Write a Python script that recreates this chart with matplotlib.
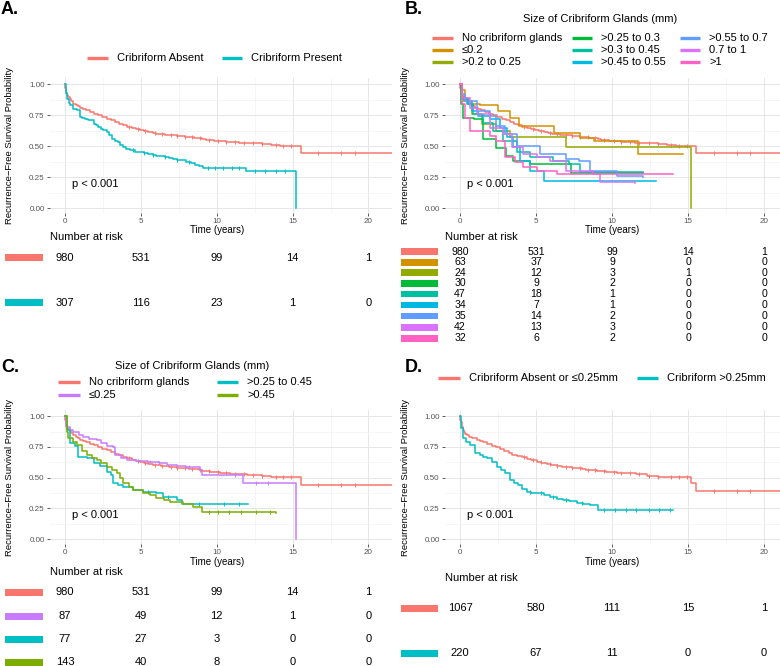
import numpy as np
import matplotlib
matplotlib.use('Agg')
import matplotlib.pyplot as plt
import matplotlib.transforms as mtrans
from matplotlib.lines import Line2D
from matplotlib.patches import Rectangle

plt.rcParams['font.family'] = ['Liberation Sans', 'DejaVu Sans']

# ---- data ----
risk_times = [0, 5, 10, 15, 20]

# shared "no cribriform" curve (A, B, C)
absent_t = [0, 0.03, 0.06, 0.1, 0.15, 0.22, 0.3, 0.4, 0.55, 0.7, 0.85, 1.0, 1.2, 1.4, 1.64, 1.9,
            2.2, 2.45, 2.74, 3.0, 3.3, 3.55, 3.82, 4.1, 4.4, 4.65, 4.93, 5.2, 5.5, 5.8, 6.03, 6.3,
            6.6, 6.85, 7.1, 7.35, 7.6, 7.9, 8.2, 8.5, 8.8, 9.05, 9.3, 9.55, 9.8, 10.2, 10.6, 10.9,
            11.2, 11.5, 12.0, 12.5, 13.0, 13.6, 14.2, 15.55, 21.6]
absent_s = [1, 0.97, 0.95, 0.93, 0.915, 0.897, 0.88, 0.865, 0.843, 0.83, 0.82, 0.81, 0.80, 0.79,
            0.775, 0.762, 0.748, 0.735, 0.722, 0.708, 0.695, 0.68, 0.667, 0.656, 0.645, 0.636, 0.627,
            0.62, 0.612, 0.606, 0.60, 0.596, 0.593, 0.59, 0.586, 0.582, 0.579, 0.576, 0.573, 0.568,
            0.562, 0.557, 0.551, 0.548, 0.545, 0.538, 0.535, 0.532, 0.53, 0.528, 0.525, 0.522, 0.515,
            0.508, 0.505, 0.443, 0.443]
absent_cens = [4.2, 4.8, 5.3, 5.9, 6.4, 7.0, 7.4, 7.9, 8.4, 8.9, 9.5, 10.1, 10.6, 11.2, 11.8, 12.4,
               13.0, 13.9, 14.4, 14.9, 16.7, 18.2, 19.1]

present_t = [0, 0.04, 0.08, 0.15, 0.25, 0.33, 0.5, 0.77, 0.99, 1.15, 1.3, 1.5, 1.64, 1.9, 2.05, 2.19,
             2.35, 2.5, 2.74, 2.9, 3.07, 3.3, 3.5, 3.65, 3.82, 4.05, 4.28, 4.6, 4.93, 5.2, 5.5, 5.8,
             6.03, 6.3, 6.6, 6.85, 7.1, 7.35, 7.6, 8.0, 8.3, 8.6, 8.85, 9.1, 11.9, 15.2, 15.2]
present_s = [1, 0.96, 0.93, 0.884, 0.85, 0.83, 0.80, 0.789, 0.735, 0.728, 0.72, 0.714, 0.708, 0.68,
             0.667, 0.654, 0.64, 0.63, 0.613, 0.59, 0.56, 0.545, 0.532, 0.51, 0.49, 0.475, 0.465, 0.455,
             0.451, 0.445, 0.44, 0.432, 0.424, 0.417, 0.41, 0.404, 0.397, 0.39, 0.385, 0.37, 0.36, 0.35,
             0.34, 0.324, 0.297, 0.297, 0.0]
present_cens = [4.5, 5.2, 5.8, 6.6, 7.4, 8.2, 9.4, 9.9, 10.4, 11.0, 11.5, 12.5, 13.2, 13.9, 14.5]

# panel B size groups
le02_t = [0, 0.1, 0.3, 0.6, 1.3, 2.5, 3.3, 3.9, 6.2, 7.9, 8.8, 11.7, 14.7]
le02_s = [1, 0.95, 0.89, 0.84, 0.835, 0.784, 0.73, 0.662, 0.608, 0.568, 0.54, 0.435, 0.435]
g02_t = [0, 0.1, 0.2, 0.77, 1.42, 2.4, 3.29, 7.0, 15.2, 15.2]
g02_s = [1, 0.906, 0.866, 0.758, 0.677, 0.624, 0.575, 0.49, 0.49, 0.0]
g025_t = [0, 0.08, 0.22, 0.9, 1.5, 2.4, 3.0, 3.5, 4.6, 7.3, 12.05]
g025_s = [1, 0.84, 0.73, 0.716, 0.554, 0.486, 0.42, 0.38, 0.355, 0.28, 0.28]
g03_t = [0, 0.1, 0.44, 0.88, 1.53, 2.2, 2.85, 3.72, 4.6, 6.13, 7.2, 7.9, 12.05]
g03_s = [1, 0.89, 0.84, 0.76, 0.69, 0.62, 0.54, 0.45, 0.41, 0.38, 0.355, 0.288, 0.288]
g045_t = [0, 0.1, 0.55, 0.77, 1.2, 1.97, 2.6, 3.07, 3.5, 3.94, 4.6, 5.5, 12.9]
g045_s = [1, 0.88, 0.85, 0.785, 0.745, 0.72, 0.65, 0.57, 0.49, 0.38, 0.30, 0.22, 0.22]
g055_t = [0, 0.1, 0.33, 1.1, 1.97, 2.4, 2.96, 3.72, 5.26, 7.0, 7.8, 8.54, 10.3, 12.05]
g055_s = [1, 0.92, 0.866, 0.785, 0.745, 0.664, 0.597, 0.50, 0.435, 0.395, 0.382, 0.30, 0.26, 0.247]
g07_t = [0, 0.1, 0.66, 1.1, 1.97, 2.85, 3.4, 4.16, 5.04, 5.9, 7.0, 8.76, 9.2, 11.5]
g07_s = [1, 0.89, 0.81, 0.76, 0.65, 0.597, 0.49, 0.435, 0.41, 0.38, 0.30, 0.274, 0.207, 0.2]
g1_t = [0, 0.1, 0.33, 0.66, 1.97, 2.4, 2.96, 3.6, 4.16, 5.04, 6.35, 14.0]
g1_s = [1, 0.84, 0.73, 0.62, 0.58, 0.54, 0.41, 0.37, 0.33, 0.30, 0.274, 0.274]

# panel C groups
le025_t = [0, 0.1, 0.3, 0.55, 0.9, 1.2, 1.6, 2.08, 2.4, 2.74, 3.18, 3.29, 3.7, 4.06, 4.7, 5.5,
           6.2, 6.7, 7.4, 8.0, 8.88, 9.0, 11.7, 15.2, 15.2]
le025_s = [1, 0.914, 0.89, 0.873, 0.85, 0.83, 0.815, 0.805, 0.785, 0.76, 0.746, 0.684, 0.66, 0.643,
           0.635, 0.63, 0.62, 0.605, 0.595, 0.589, 0.562, 0.52, 0.454, 0.454, 0.0]
le025_cens = [5.6, 6.2, 8.2, 11.2, 12.6, 13.4]
mid_t = [0, 0.11, 0.33, 0.66, 0.88, 1.43, 1.9, 2.3, 2.74, 3.0, 3.18, 3.5, 3.84, 4.5, 5.15, 6.03,
         6.47, 7.35, 7.68, 12.06]
mid_s = [1, 0.886, 0.778, 0.757, 0.67, 0.657, 0.62, 0.595, 0.549, 0.52, 0.454, 0.44, 0.427, 0.40,
         0.386, 0.373, 0.346, 0.319, 0.286, 0.286]
mid_cens = [5.5, 6.8, 8.8, 10.5, 11.5]
big_t = [0, 0.11, 0.22, 0.5, 0.77, 1.1, 1.43, 1.8, 2.08, 2.4, 2.74, 3.1, 3.4, 3.6, 3.84, 4.2, 4.5,
         5.15, 5.6, 6.03, 6.5, 6.9, 7.8, 8.44, 9.0, 13.9]
big_s = [1, 0.873, 0.82, 0.79, 0.765, 0.72, 0.684, 0.66, 0.643, 0.615, 0.589, 0.56, 0.535, 0.50,
         0.454, 0.42, 0.40, 0.373, 0.355, 0.338, 0.32, 0.305, 0.286, 0.265, 0.224, 0.216]
big_cens = [9.5, 10.1, 10.8, 11.6, 12.6, 13.5]

# panel D groups
low_t = [0, 0.03, 0.06, 0.11, 0.18, 0.25, 0.35, 0.44, 0.6, 0.8, 1.1, 1.3, 1.53, 1.8, 2.1, 2.35,
         2.63, 2.9, 3.2, 3.45, 3.72, 4.05, 4.4, 4.7, 5.04, 5.35, 5.7, 6.0, 6.35, 6.7, 7.0, 7.35,
         7.67, 8.0, 8.3, 8.65, 8.98, 9.3, 9.6, 10.0, 10.3, 10.9, 11.6, 12.27, 13.0, 13.6, 15.2,
         15.55, 21.6]
low_s = [1, 0.97, 0.95, 0.914, 0.89, 0.87, 0.855, 0.846, 0.832, 0.82, 0.805, 0.798, 0.79, 0.775,
         0.76, 0.745, 0.73, 0.715, 0.70, 0.688, 0.676, 0.664, 0.652, 0.641, 0.63, 0.62, 0.612,
         0.603, 0.595, 0.59, 0.585, 0.58, 0.576, 0.57, 0.565, 0.56, 0.554, 0.55, 0.547, 0.543,
         0.54, 0.535, 0.53, 0.514, 0.508, 0.503, 0.454, 0.395, 0.395]
high_t = [0, 0.04, 0.08, 0.18, 0.4, 0.66, 0.99, 1.3, 1.5, 1.75, 2.1, 2.41, 2.7, 2.96, 3.29, 3.55,
          3.83, 4.1, 4.38, 4.7, 5.04, 5.5, 5.9, 6.4, 6.8, 7.2, 7.67, 8.1, 8.54, 9.1, 14.0]
high_s = [1, 0.95, 0.90, 0.82, 0.79, 0.765, 0.697, 0.68, 0.668, 0.657, 0.625, 0.59, 0.56, 0.535,
          0.48, 0.46, 0.44, 0.41, 0.386, 0.378, 0.373, 0.36, 0.346, 0.33, 0.319, 0.31, 0.297, 0.285,
          0.278, 0.238, 0.238]
high_cens = [4.6, 5.3, 6.1, 7.0, 8.0, 9.5, 10.2, 10.9, 11.6, 12.4, 13.1, 13.8]

risk_a = [[980, 531, 99, 14, 1], [307, 116, 23, 1, 0]]
risk_b = [[980, 531, 99, 14, 1], [63, 37, 9, 0, 0], [24, 12, 3, 1, 0], [30, 9, 2, 0, 0],
          [47, 18, 1, 0, 0], [34, 7, 1, 0, 0], [35, 14, 2, 0, 0], [42, 13, 3, 0, 0], [32, 6, 2, 0, 0]]
risk_c = [[980, 531, 99, 14, 1], [87, 49, 12, 1, 0], [77, 27, 3, 0, 0], [143, 40, 8, 0, 0]]
risk_d = [[1067, 580, 111, 15, 1], [220, 67, 11, 0, 0]]

labels_a = ['Cribriform Absent', 'Cribriform Present']
labels_b = ['No cribriform glands', '≤0.2', '>0.2 to 0.25', '>0.25 to 0.3', '>0.3 to 0.45',
            '>0.45 to 0.55', '>0.55 to 0.7', '0.7 to 1', '>1']
labels_c = ['No cribriform glands', '≤0.25', '>0.25 to 0.45', '>0.45']
labels_d = ['Cribriform Absent or ≤0.25mm', 'Cribriform >0.25mm']

RED, CYAN = '#F8766D', '#00BFC4'
cols_b = ['#F8766D', '#D39200', '#93AA00', '#00BA38', '#00C19F', '#00B9E3', '#619CFF', '#DB72FB', '#FF61C3']
cols_c = ['#F8766D', '#C77CFF', '#00BFC4', '#7CAE00']

W, H = 780, 666
fig = plt.figure(figsize=(W / 100, H / 100), dpi=100)


def fx(x):
    return x / W


def fy(y):
    return 1 - y / H


def panel(left, top, right, bottom, xlim):
    ax = fig.add_axes([fx(left), fy(bottom), (right - left) / W, (bottom - top) / H])
    ax.set_xlim(*xlim)
    ax.set_ylim(-0.04, 1.05)
    for sp in ax.spines.values():
        sp.set_visible(False)
    ax.set_xticks([0, 5, 10, 15, 20])
    ax.set_xticks([2.5, 7.5, 12.5, 17.5], minor=True)
    ax.set_yticks([0, 0.25, 0.5, 0.75, 1.0])
    ax.set_yticklabels(['0.00', '0.25', '0.50', '0.75', '1.00'])
    ax.set_yticks([0.125, 0.375, 0.625, 0.875], minor=True)
    ax.grid(which='major', color='#e6e6e6', lw=0.7)
    ax.grid(which='minor', color='#f1f1f1', lw=0.45)
    ax.tick_params(which='major', length=2.2, width=0.6, color='#444444', labelsize=5.8,
                   labelcolor='#555555', pad=1.5)
    ax.tick_params(which='minor', length=0)
    ax.set_axisbelow(True)
    ax.text(0.45, 0.195, 'p < 0.001', fontsize=8, va='center', ha='left')
    return ax


def curve(ax, t, s, c, cens=None):
    ax.step(t, s, where='post', color=c, lw=1.1)
    if cens:
        idx = np.searchsorted(t, cens, side='right') - 1
        ax.plot(cens, np.array(s)[idx], ls='none', marker='|', ms=3, mew=0.7, color=c)


def side_text(ax, xlabel_y, ylabel_x, ylabel_y):
    tr = mtrans.blended_transform_factory(ax.transData, fig.transFigure)
    fig.text(10, fy(xlabel_y), 'Time (years)', transform=tr, fontsize=7, ha='center', va='center')
    fig.text(fx(ylabel_x), fy(ylabel_y), 'Recurrence\u2212Free Survival Probability', rotation=90,
             fontsize=6.8, ha='center', va='center')


def risk_table(ax, head_x, head_y, rows_y, patch_x, counts, colors, fs, ph):
    fig.text(fx(head_x), fy(head_y), 'Number at risk', fontsize=8, ha='left', va='center')
    tr = mtrans.blended_transform_factory(ax.transData, fig.transFigure)
    for y, row, c in zip(rows_y, counts, colors):
        fig.add_artist(Rectangle((fx(patch_x[0]), fy(y + ph / 2)), (patch_x[1] - patch_x[0]) / W, ph / H,
                                 color=c, transform=fig.transFigure, lw=0))
        for t, n in zip(risk_times, row):
            fig.text(t, fy(y), str(n), transform=tr, fontsize=fs, ha='center', va='center')


def legend_item(x0, x1, y, text, c):
    fig.add_artist(Line2D([fx(x0), fx(x1)], [fy(y), fy(y)], color=c, lw=2.4,
                          transform=fig.transFigure, solid_capstyle='butt'))
    fig.text(fx(x1 + 9), fy(y), text, fontsize=8, ha='left', va='center')


# ---- A ----
ax_a = panel(49.8, 78, 392, 213, (-1, 21.55))
curve(ax_a, absent_t, absent_s, RED, absent_cens)
curve(ax_a, present_t, present_s, CYAN, present_cens)
side_text(ax_a, 230, 10, 145.5)
legend_item(87, 108, 58, labels_a[0], RED)
legend_item(222, 242, 58, labels_a[1], CYAN)
risk_table(ax_a, 50, 237, [258, 303], (5, 43), risk_a, [RED, CYAN], 8, 7)

# ---- B ----
ax_b = panel(444.8, 78, 780, 213, (-1, 21.05))
curves_b = [(absent_t, absent_s), (le02_t, le02_s), (g02_t, g02_s), (g025_t, g025_s), (g03_t, g03_s),
            (g045_t, g045_s), (g055_t, g055_s), (g07_t, g07_s), (g1_t, g1_s)]
for (t, s), c in zip(curves_b, cols_b):
    curve(ax_b, t, s, c, absent_cens if t is absent_t else None)
side_text(ax_b, 230, 405, 145.5)
fig.text(fx(600), fy(19), 'Size of Cribriform Glands (mm)', fontsize=8, ha='center', va='center')
leg_cols = [(432, 453), (572, 592), (680, 700)]
for i, (lab, c) in enumerate(zip(labels_b, cols_b)):
    x0, x1 = leg_cols[i // 3]
    legend_item(x0, x1, 38 + 12 * (i % 3), lab, c)
risk_table(ax_b, 445, 237, [251.7, 262.3, 272.7, 283.3, 294, 305, 316, 327.3, 338.3], (400.7, 438.3),
           risk_b, cols_b, 7.6, 6.5)

# ---- C ----
ax_c = panel(49.8, 410, 392, 544, (-1, 21.55))
curve(ax_c, absent_t, absent_s, cols_c[0], absent_cens)
curve(ax_c, le025_t, le025_s, cols_c[1], le025_cens)
curve(ax_c, mid_t, mid_s, cols_c[2], mid_cens)
curve(ax_c, big_t, big_s, cols_c[3], big_cens)
side_text(ax_c, 562.3, 10, 477)
fig.text(fx(192), fy(366), 'Size of Cribriform Glands (mm)', fontsize=8, ha='center', va='center')
leg_c = [(58, 80, 382), (58, 80, 395), (217, 238, 382), (217, 238, 395)]
for (x0, x1, y), lab, c in zip(leg_c, labels_c, cols_c):
    legend_item(x0, x1, y, lab, c)
risk_table(ax_c, 50, 572, [592.3, 616, 639.3, 662.3], (5, 43), risk_c, cols_c, 8, 7)

# ---- D ----
ax_d = panel(444.8, 410, 780, 544, (-1, 21.05))
curve(ax_d, low_t, low_s, RED, absent_cens)
curve(ax_d, high_t, high_s, CYAN, high_cens)
side_text(ax_d, 562.3, 405, 477)
legend_item(438, 460, 378, labels_d[0], RED)
legend_item(637, 658, 378, labels_d[1], CYAN)
risk_table(ax_d, 445, 578, [608.3, 653.3], (400.7, 438.3), risk_d, [RED, CYAN], 8, 7)

# panel letters
for lab, x, y in [('A.', 1, 10), ('B.', 405, 10), ('C.', 1, 368), ('D.', 405, 367)]:
    fig.text(fx(x), fy(y), lab, fontsize=13, fontweight='bold', ha='left', va='center')

fig.savefig('out.png', dpi=100)
